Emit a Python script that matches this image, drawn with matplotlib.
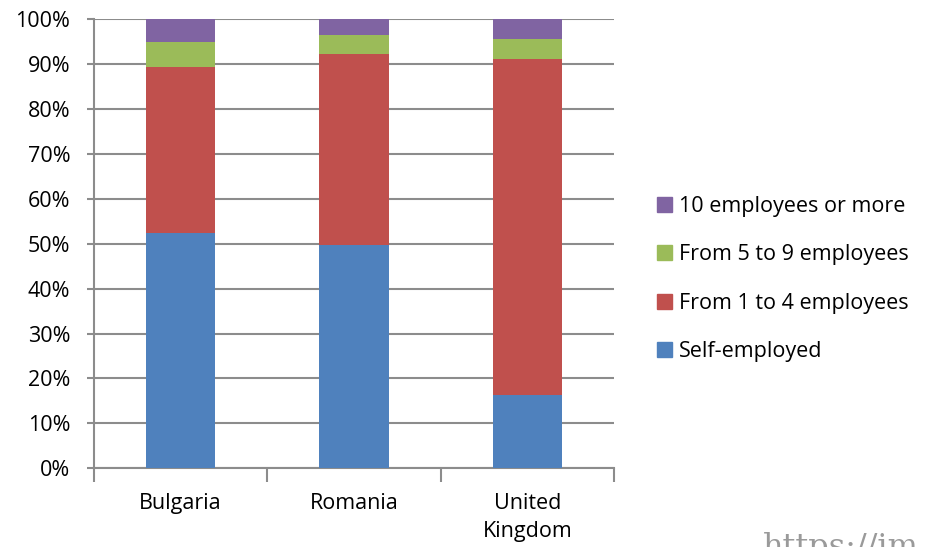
import numpy as np
import matplotlib
matplotlib.use('Agg')
import matplotlib.pyplot as plt
from matplotlib.patches import Patch

countries = ['Bulgaria', 'Romania', 'United\nKingdom']
series_names = ['Self-employed', 'From 1 to 4 employees', 'From 5 to 9 employees', '10 employees or more']
self_employed = [52.3, 49.7, 16.4]
from_1_to_4 = [37.1, 42.6, 74.7]
from_5_to_9 = [5.5, 4.1, 4.4]
ten_or_more = [5.1, 3.6, 4.5]
colors = ['#4F81BD', '#C0504D', '#9BBB59', '#8064A2']

plt.rcParams['font.family'] = ['Open Sans', 'DejaVu Sans']
fs = 15.5

fig = plt.figure(figsize=(9.29, 5.47), dpi=100)
ax = fig.add_axes([0.101, 0.144, 0.56, 0.821])

x = np.arange(len(countries))
bottom = np.zeros(len(countries))
for vals, c in zip([self_employed, from_1_to_4, from_5_to_9, ten_or_more], colors):
    ax.bar(x, vals, width=0.4, bottom=bottom, color=c, zorder=3)
    bottom += np.array(vals)

ax.set_xlim(-0.5, 2.5)
ax.set_ylim(0, 100)
ax.set_yticks(np.arange(0, 101, 10))
ax.set_yticklabels(['%d%%' % v for v in range(0, 101, 10)], fontsize=fs)
ax.yaxis.grid(True, color='#8c8c8c', linewidth=1.5, zorder=0)
ax.set_axisbelow(True)

# category labels centred, tick marks between categories
ax.set_xticks(x)
ax.set_xticklabels(countries, fontsize=fs, linespacing=1.4)
ax.tick_params(axis='x', length=0, pad=18)
ax.set_xticks([-0.5, 0.5, 1.5, 2.5], minor=True)
ax.tick_params(axis='x', which='minor', length=10, width=1.5, color='#8c8c8c')
ax.tick_params(axis='y', length=5, width=1.5, color='#8c8c8c', pad=12)

for s in ['top', 'right']:
    ax.spines[s].set_visible(False)
for s in ['left', 'bottom']:
    ax.spines[s].set_color('#8c8c8c')
    ax.spines[s].set_linewidth(1.5)

handles = [Patch(color=c, label=n) for c, n in zip(colors, series_names)][::-1]
fig.legend(handles=handles, loc='center left', bbox_to_anchor=(0.707, 0.49),
           frameon=False, fontsize=fs, handlelength=0.7, handleheight=0.7,
           handletextpad=0.35, labelspacing=1.28, borderaxespad=0,
           borderpad=0)

fig.text(0.821, -0.03, 'https://im', fontsize=23, family='DejaVu Serif',
         color='#9a9a9a', va='bottom')

fig.savefig('out.png', dpi=100)
